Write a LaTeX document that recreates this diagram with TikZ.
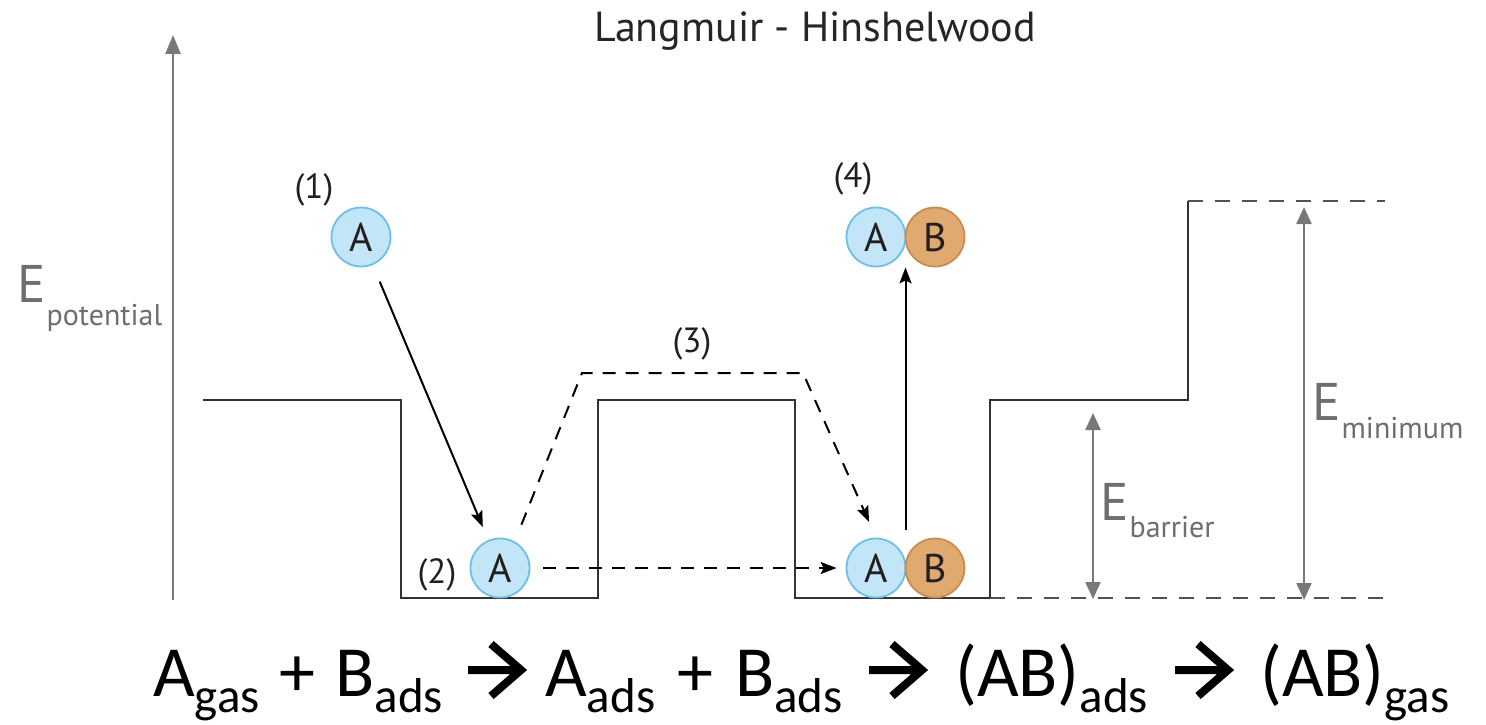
\documentclass[tikz,border=0pt]{standalone}
\usepackage{fontspec}
\setmainfont{PT Sans}
\newfontfamily\calib{Carlito}
\usetikzlibrary{arrows.meta,calc}
\definecolor{ablue}{HTML}{C2E6F8}
\definecolor{ablueline}{HTML}{6EBFE6}
\definecolor{borange}{HTML}{DFA96F}
\definecolor{borangeline}{HTML}{C98B50}
\definecolor{eline}{HTML}{333333}
\definecolor{greyax}{HTML}{77787B}
\definecolor{greytxt}{HTML}{6D6E71}
\definecolor{txt}{HTML}{231F20}
\newcommand{\esub}[2]{E\hspace{1pt}\raisebox{-#2}{\fontsize{30}{36}\selectfont #1}}
\newcommand{\sbs}[1]{\raisebox{-16pt}{\fontsize{49}{54}\selectfont #1}}
\newcommand{\eqplus}[1]{\hspace{#1}+\hspace{#1}}
\tikzset{
  profile/.style={draw=eline, line width=2.8pt, line join=miter},
  guide/.style={draw=eline!85, line width=2.4pt, dash pattern=on 15pt off 12pt},
  gaxis/.style={draw=greyax, line width=2.5pt, -{Triangle[length=19pt,width=15pt]}},
  gdbl/.style={draw=greyax, line width=2.2pt, {Triangle[length=17pt,width=15pt]}-{Triangle[length=17pt,width=15pt]}},
  atom/.style={circle, minimum size=59pt, inner sep=0pt, line width=1.8pt, text=txt, font={\fontsize{40}{48}\selectfont}},
  atomA/.style={atom, fill=ablue, draw=ablueline},
  atomB/.style={atom, fill=borange, draw=borangeline},
  conn/.style={draw=black, line width=2pt, -{Stealth[length=16pt,width=12pt,inset=3pt]}},
  dconn/.style={conn, dash pattern=on 13pt off 10pt},
  lab/.style={text=txt, inner sep=0pt, anchor=base, font={\fontsize{35}{42}\selectfont}},
  elab/.style={text=greytxt, inner sep=0pt, anchor=base west, font={\fontsize{53}{60}\selectfont}},
  eq/.style={inner sep=0pt, anchor=base west, text=black, font={\calib\fontsize{72}{84}\selectfont}},
  eqarr/.style={draw=black, line width=8pt, line join=miter, line cap=butt}
}
\begin{document}
\begin{tikzpicture}[x=1pt,y=-1pt]
\useasboundingbox (0,0) rectangle (1486,725);
\fill[white] (0,0) rectangle (1486,725);

% title
\node[inner sep=0pt, anchor=base, text=black!85, font={\fontsize{42}{48}\selectfont}] (title) at (815,42) {Langmuir - Hinshelwood};

% axis
\coordinate (ax0) at (173,600);
\coordinate (ax1) at (173,35);
\draw[gaxis] (ax0) -- (ax1);
\node[elab] (Epot) at (17,302) {\esub{potential}{23pt}};

% energy profile
\draw[profile] (203,400) -- (401,400) -- (401,598) -- (598,598) -- (598,400) -- (795,400) -- (795,598) -- (990,598) -- (990,400) -- (1188,400) -- (1188,201);
\draw[guide] (990,598) -- (1385,598);
\draw[guide] (1188,201) -- (1385,201);

% energy arrows
\coordinate (b0) at (1093,599);
\coordinate (b1) at (1093,413);
\draw[gdbl] (b0) -- (b1);
\coordinate (m0) at (1304,600);
\coordinate (m1) at (1304,207);
\draw[gdbl] (m0) -- (m1);
\node[elab] (Ebar) at (1100,520) {\esub{barrier}{17pt}};
\node[elab] (Emin) at (1312,420) {\esub{minimum}{18pt}};

% particles
\node[atomA] (A1) at (361,237) {A};
\node[atomA] (A2) at (500,568) {A};
\node[atomA] (Ab) at (876,568) {A};
\node[atomB] (Bb) at (935,568) {B};
\node[atomA] (At) at (876,237) {A};
\node[atomB] (Bt) at (935,237) {B};

% step labels
\node[lab] (l1) at (314,198) {(1)};
\node[lab] (l2) at (437,583) {(2)};
\node[lab] (l3) at (692,352) {(3)};
\node[lab] (l4) at (853,187) {(4)};

% connectors
\draw[conn, shorten <=18pt, shorten >=14pt] (A1) -- (A2);
\coordinate (c3a) at (582,373);
\coordinate (c3b) at (803,373);
\draw[dconn, shorten <=18pt, shorten >=17pt] (A2.61) -- (c3a) -- (c3b) -- (Ab.north);
\draw[dconn, shorten <=13pt, shorten >=9pt] (A2.east) -- (Ab.west);
\coordinate (up0) at ($(Ab.north)!0.5!(Bb.north)$);
\coordinate (up1) at ($(At.south)!0.5!(Bt.south)$);
\draw[conn, shorten <=8pt] (up0) -- (up1);

% equation
\node[eq] (e1) at (153,696) {A\sbs{gas}\eqplus{20pt}B\sbs{ads}};
\node[eq] (e2) at (545,696) {A\sbs{ads}\eqplus{22pt}B\sbs{ads}};
\node[eq] (e3) at (955,696) {(AB)\sbs{ads}};
\node[eq] (e4) at (1260,696) {(AB)\sbs{gas}};
\coordinate (r1s) at (468,670);
\coordinate (r1e) at (521,670);
\coordinate (r2s) at (869,670);
\coordinate (r2e) at (922,670);
\coordinate (r3s) at (1175,670);
\coordinate (r3e) at (1228,670);
\draw[eqarr] (r1s) -- (r1e) ++(-30,-26) -- (r1e) -- ++(-30,26);
\draw[eqarr] (r2s) -- (r2e) ++(-30,-26) -- (r2e) -- ++(-30,26);
\draw[eqarr] (r3s) -- (r3e) ++(-30,-26) -- (r3e) -- ++(-30,26);
\end{tikzpicture}
\end{document}
